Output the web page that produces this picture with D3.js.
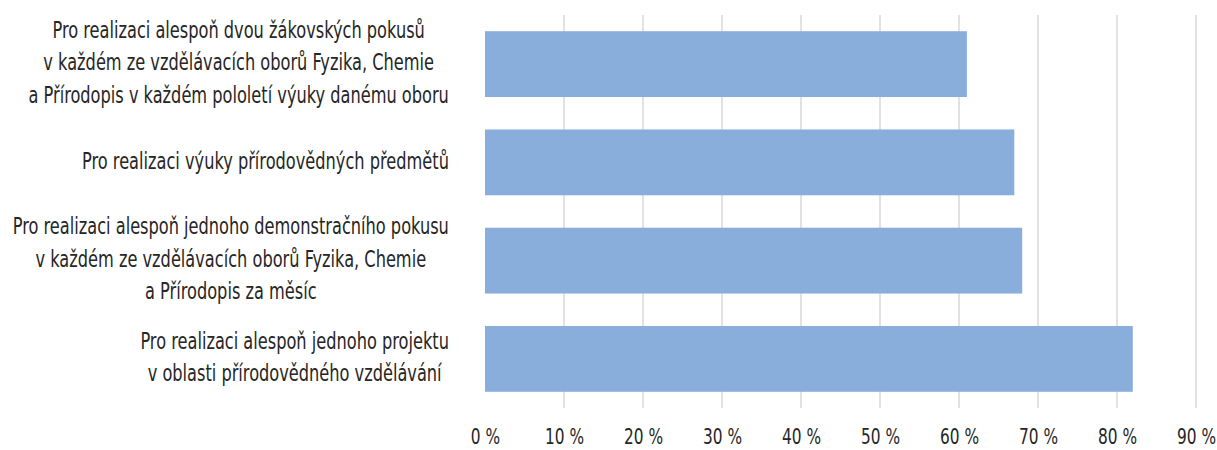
<html>
<script src="https://cdnjs.cloudflare.com/ajax/libs/d3/7.8.5/d3.min.js"></script>
<style>
  body { margin: 0; background: #fff; }
  text { font-family: "DejaVu Sans", sans-serif; fill: #262626; }
  .grid line { stroke: #d9d9d9; stroke-width: 1.5; }
  .bar { fill: #8aaedb; }
</style>
<body>
  <svg width="1217" height="450"></svg>
</body>
<script>
  // categories, top to bottom, already split into lines
  const kategorie = [
    ['Pro realizaci alespoň dvou žákovských pokusů', 'v každém ze vzdělávacích oborů Fyzika, Chemie', 'a Přírodopis v každém pololetí výuky danému oboru'],
    ['Pro realizaci výuky přírodovědných předmětů'],
    ['Pro realizaci alespoň jednoho demonstračního pokusu', 'v každém ze vzdělávacích oborů Fyzika, Chemie', 'a Přírodopis za měsíc'],
    ['Pro realizaci alespoň jednoho projektu', 'v oblasti přírodovědného vzdělávání']
  ];
  const hodnoty = [61, 67, 68, 82];
  const ticky = [0, 10, 20, 30, 40, 50, 60, 70, 80, 90];
  const tickPopisky = ticky.map(t => t + ' %');

  const plotLeft = 485, plotRight = 1196, plotTop = 15, plotBottom = 408;
  const labelRight = 449;
  // no condensed font installed, squeeze the text instead
  const sxLabel = 0.72, sxTick = 0.70;

  const svg = d3.select('svg');

  const x = d3.scaleLinear().domain([0, 90]).range([plotLeft, plotRight]);
  const y = d3.scaleBand()
    .domain(d3.range(kategorie.length))
    .range([plotTop, plotBottom])
    .paddingInner(0.33)
    .paddingOuter(0.165);

  // gridlines
  svg.append('g').attr('class', 'grid')
    .selectAll('line')
    .data(ticky.slice(1))
    .enter()
    .append('line')
    .attr('x1', d => x(d)).attr('x2', d => x(d))
    .attr('y1', plotTop).attr('y2', plotBottom);

  // bars
  svg.selectAll('.bar')
    .data(hodnoty)
    .enter()
    .append('rect')
    .attr('class', 'bar')
    .attr('x', x(0))
    .attr('y', (d, i) => y(i))
    .attr('width', d => x(d) - x(0))
    .attr('height', y.bandwidth());

  // x axis labels
  const xAxis = d3.axisBottom(x)
    .tickValues(ticky)
    .tickFormat((d, i) => tickPopisky[i])
    .tickSize(0)
    .tickPadding(0);
  const ax = svg.append('g')
    .attr('transform', 'translate(0,444)')
    .call(xAxis);
  ax.select('.domain').remove();
  ax.attr('font-family', null).attr('font-size', null);
  ax.selectAll('text')
    .attr('y', 0)
    .attr('dy', 0)
    .attr('transform', 'scale(' + sxTick + ',1)')
    .style('font-size', '22px')
    .attr('fill', '#262626');

  // category labels: lines centred within the block, block right aligned
  const lineH = 32.5;
  kategorie.forEach((lines, i) => {
    const cy = y(i) + y.bandwidth() / 2;
    const g = svg.append('g');
    const txt = g.selectAll('text')
      .data(lines)
      .enter()
      .append('text')
      .attr('y', (d, j) => (j - (lines.length - 1) / 2) * lineH)
      .attr('dy', '0.28em')
      .attr('text-anchor', 'middle')
      .style('font-size', '22.5px')
      .text(d => d);
    let maxW = 0;
    txt.each(function() { maxW = Math.max(maxW, this.getComputedTextLength()); });
    g.attr('transform', 'translate(' + (labelRight - maxW * sxLabel / 2) + ',' + cy + ') scale(' + sxLabel + ',1)');
  });
</script>
</html>
